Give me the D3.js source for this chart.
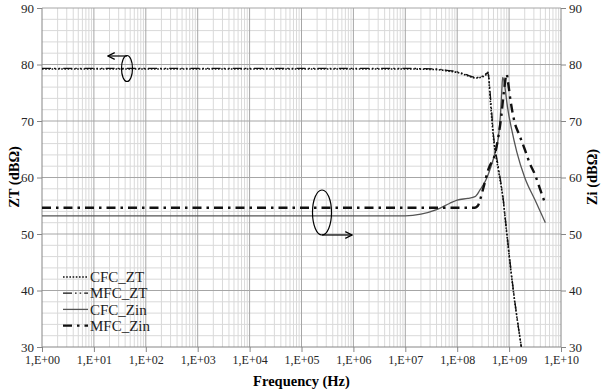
<!DOCTYPE html>
<html><head><meta charset="utf-8">
<script src="https://cdn.jsdelivr.net/npm/d3@7"></script>
<style>body{margin:0;background:#fff} svg text{font-family:"Liberation Serif",serif !important}</style>
</head><body><svg id="c" width="603" height="392" font-family="Liberation Serif"></svg>
<script>
// ---- data ----
const xTickLabels = ["1,E+00","1,E+01","1,E+02","1,E+03","1,E+04","1,E+05","1,E+06","1,E+07","1,E+08","1,E+09","1,E+10"];
const yTicks = [30,40,50,60,70,80,90];
const seriesNames = ["CFC_ZT","MFC_ZT","CFC_Zin","MFC_Zin"];

const cfcZtFreq = [1,1e7,4e7,6e7,1e8,1.5e8,2e8,2.3e8,3e8,3.6e8,3.9e8,4.4e8,5e8,6.3e8,7.7e8,8.9e8,1.2e9,1.72e9];
const cfcZtVal  = [79.2,79.2,79.1,78.9,78.6,78.1,77.7,77.6,77.8,78.2,78.6,73,67,61,56,50.5,40.1,30];
const mfcZtFreq = [1,1e7,4e7,6e7,1e8,1.5e8,2e8,2.3e8,3e8,3.6e8,3.9e8,4.4e8,5e8,6.3e8,7.7e8,8.9e8,1.2e9,1.72e9];
const mfcZtVal  = [79.3,79.3,79.2,79.0,78.7,78.2,77.8,77.7,77.9,78.4,78.5,74,67.5,61.5,56.2,50.8,40.3,30];

const cfcZinFreq = [1,1e7,2e7,4e7,7.1e7,1e8,1.6e8,2.2e8,2.75e8,3.55e8,4.5e8,5.4e8,6.2e8,6.8e8,7.2e8,7.5e8,7.9e8,8.3e8,9.3e8,1.12e9,1.41e9,2e9,3.16e9,5e9];
const cfcZinVal  = [53.2,53.2,53.5,54.3,55.4,56.0,56.3,56.6,57.8,59.5,62,64.5,67,71,75,77.7,77.2,76,72.5,68.5,64.5,60,56,52];
const mfcZinFreq = [1,2.2e8,2.5e8,2.75e8,3.16e8,4e8,5.4e8,6.2e8,7.1e8,7.9e8,9e8,9.5e8,1.07e9,1.26e9,1.58e9,2e9,2.5e9,3.16e9,4e9,5e9];
const mfcZinVal  = [54.65,54.65,55,56,58,61.5,64.3,67.2,71,75,78.3,77,73.5,70,67.5,65,62.5,60.5,57.8,55.3];

// ---- layout ----
const FONT = "Liberation Serif";
const svg = d3.select("#c");
const L = 42, R = 561, T = 8, B = 347;
const x = d3.scaleLog().domain([1,1e10]).range([L,R]);
const y = d3.scaleLinear().domain([30,90]).range([B,T]);

// grid
const g = svg.append("g");
for (let e = 0; e < 10; e++) {
  for (let m = 2; m <= 9; m++) {
    const f = m * Math.pow(10, e);
    g.append("line").attr("x1", x(f)).attr("x2", x(f)).attr("y1", T).attr("y2", B)
      .attr("stroke", "#d9d9d9").attr("stroke-width", 1);
  }
}
for (let v = 32; v < 90; v += 2) {
  if (v % 10 === 0) continue;
  g.append("line").attr("x1", L).attr("x2", R).attr("y1", y(v)).attr("y2", y(v))
    .attr("stroke", "#d9d9d9").attr("stroke-width", 1);
}
for (let e = 1; e < 10; e++) {
  const f = Math.pow(10, e);
  g.append("line").attr("x1", x(f)).attr("x2", x(f)).attr("y1", T).attr("y2", B)
    .attr("stroke", "#a6a6a6").attr("stroke-width", 1);
}
yTicks.forEach(v => {
  if (v === 30) return;
  g.append("line").attr("x1", L).attr("x2", R).attr("y1", y(v)).attr("y2", y(v))
    .attr("stroke", "#a6a6a6").attr("stroke-width", 1);
});

// axes
const axL = d3.axisLeft(y).tickValues(yTicks).tickSize(5).tickFormat(d3.format("d"));
const axR = d3.axisRight(y).tickValues(yTicks).tickSize(5).tickFormat(d3.format("d"));
const axB = d3.axisBottom(x).tickValues(xTickLabels.map((d,i)=>Math.pow(10,i))).tickSize(5)
  .tickFormat((d,i)=>xTickLabels[i]);
function style(sel){
  sel.attr("font-family", FONT).attr("font-size", 13);
  sel.selectAll("path").attr("stroke","#868686");
  sel.selectAll("line").attr("stroke","#868686");
  sel.selectAll("text").attr("fill","#262626").attr("font-family", FONT).style("font-family", FONT).style("font-size", "13px");
}
svg.append("g").attr("transform",`translate(${L},0)`).call(axL).call(style).call(s=>s.select(".domain").attr("d",`M0,${T}V${B}`));
svg.append("g").attr("transform",`translate(${R},0)`).call(axR).call(style).call(s=>s.select(".domain").attr("d",`M0,${T}V${B}`));
svg.append("g").attr("transform",`translate(0,${B})`).call(axB).call(style)
  .call(s=>s.select(".domain").attr("d",`M${L},0H${R}`))
  .call(s=>s.selectAll("text").style("font-size","12px").attr("dy","0.75em"));

// clip
svg.append("clipPath").attr("id","clip").append("rect").attr("x",L).attr("y",T).attr("width",R-L).attr("height",B-T);

const line = d3.line().x(d=>x(d[0])).y(d=>y(d[1])).curve(d3.curveMonotoneX);
const zip = (a,b)=>a.map((f,i)=>[f,b[i]]);
const styles = {
  "CFC_ZT":  {stroke:"#111", width:1.6, dash:"1.6,1.6"},
  "MFC_ZT":  {stroke:"#111", width:1.3, dash:"9,3,1.6,3,1.6,3"},
  "CFC_Zin": {stroke:"#555", width:1.3, dash:null},
  "MFC_Zin": {stroke:"#111", width:2.4, dash:"9,5,2.5,5"}
};
const data = {
  "CFC_ZT": zip(cfcZtFreq, cfcZtVal),
  "MFC_ZT": zip(mfcZtFreq, mfcZtVal),
  "CFC_Zin": zip(cfcZinFreq, cfcZinVal),
  "MFC_Zin": zip(mfcZinFreq, mfcZinVal)
};
const plot = svg.append("g").attr("clip-path","url(#clip)");
["CFC_Zin","MFC_Zin","MFC_ZT","CFC_ZT"].forEach(n=>{
  const s = styles[n];
  plot.append("path").datum(data[n]).attr("d",line).attr("fill","none")
    .attr("stroke",s.stroke).attr("stroke-width",s.width).attr("stroke-dasharray",s.dash);
});

// annotations
const defs = svg.append("defs");
defs.append("marker").attr("id","arr").attr("viewBox","0 0 10 10").attr("refX",9).attr("refY",5)
  .attr("markerWidth",7).attr("markerHeight",7).attr("orient","auto-start-reverse")
  .append("path").attr("d","M1,1L9,5L1,9").attr("fill","none").attr("stroke","#000").attr("stroke-width",1.4);
const ann = svg.append("g");
ann.append("ellipse").attr("cx",127).attr("cy",68.5).attr("rx",5.5).attr("ry",13).attr("fill","none").attr("stroke","#000").attr("stroke-width",1.2);
ann.append("line").attr("x1",127).attr("y1",56).attr("x2",108).attr("y2",56).attr("stroke","#000").attr("stroke-width",1.2).attr("marker-end","url(#arr)");
ann.append("ellipse").attr("cx",322).attr("cy",212.5).attr("rx",9.5).attr("ry",22.5).attr("fill","none").attr("stroke","#000").attr("stroke-width",1.2);
ann.append("line").attr("x1",322).attr("y1",235).attr("x2",352).attr("y2",235).attr("stroke","#000").attr("stroke-width",1.2).attr("marker-end","url(#arr)");

// legend
const lg = svg.append("g");
seriesNames.forEach((n,i)=>{
  const yy = 277 + i*16.2;
  const s = styles[n];
  lg.append("line").attr("x1",63).attr("x2",88).attr("y1",yy).attr("y2",yy)
    .attr("stroke",s.stroke).attr("stroke-width",s.width).attr("stroke-dasharray",s.dash);
  lg.append("text").attr("x",90).attr("y",yy).attr("dy","0.35em").attr("font-family",FONT).style("font-family",FONT).style("font-size","15px").attr("fill","#222").text(n);
});

// titles
function title(sel){ return sel.attr("font-family",FONT).style("font-family",FONT).style("font-size","14.5px").style("font-weight","bold").attr("text-anchor","middle").attr("dy","0.35em"); }
svg.append("text").attr("x",(L+R)/2).attr("y",381).call(title).text("Frequency (Hz)");
svg.append("text").attr("transform","translate(14,177) rotate(-90)").call(title).text("ZT (dBΩ)");
svg.append("text").attr("transform","translate(592,177) rotate(-90)").call(title).text("Zi (dBΩ)");
</script></body></html>
